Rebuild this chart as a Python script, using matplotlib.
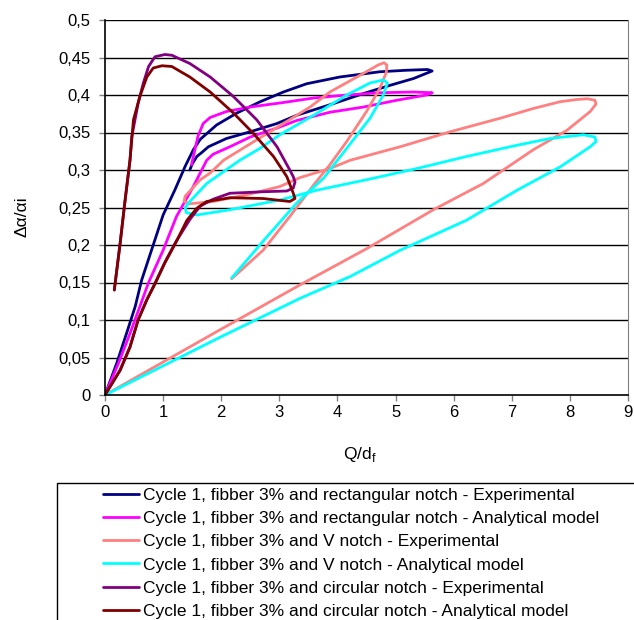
import matplotlib
matplotlib.use('Agg')
import matplotlib.pyplot as plt
from matplotlib.patches import Rectangle
from matplotlib.ticker import FixedLocator, FuncFormatter

plt.rcParams['font.family'] = ['Liberation Sans', 'DejaVu Sans']
plt.rcParams['font.size'] = 12

# Cycle 1, fibber 3% - rectangular notch, experimental
rect_exp_x = [0, 0.2, 0.37, 0.52, 0.63, 0.8, 1.0, 1.2, 1.38, 1.52, 1.64, 1.92, 2.27, 2.67, 3.07,
              3.47, 4.04, 4.73, 5.19, 5.55, 5.63, 5.31, 4.91, 4.45, 3.87, 3.30, 2.96, 2.5, 2.09,
              1.78, 1.66, 1.58, 1.5, 1.46]
rect_exp_y = [0, 0.042, 0.082, 0.118, 0.153, 0.193, 0.24, 0.273, 0.305, 0.327, 0.341, 0.36, 0.376,
              0.391, 0.404, 0.415, 0.424, 0.431, 0.433, 0.434, 0.432, 0.422, 0.413, 0.402, 0.387,
              0.373, 0.362, 0.351, 0.342, 0.331, 0.323, 0.318, 0.308, 0.3]

# rectangular notch, analytical model
rect_ana_x = [0, 0.23, 0.43, 0.6, 0.75, 1.0, 1.23, 1.52, 1.75, 1.86, 2.15, 2.5, 2.96, 3.3, 3.87,
              4.45, 5.02, 5.53, 5.63, 5.31, 4.73, 4.16, 3.59, 3.07, 2.5, 2.09, 1.81, 1.69, 1.6,
              1.52, 1.49]
rect_ana_y = [0, 0.042, 0.082, 0.118, 0.15, 0.193, 0.238, 0.278, 0.313, 0.321, 0.331, 0.344, 0.356,
              0.366, 0.377, 0.384, 0.393, 0.4, 0.403, 0.404, 0.403, 0.4, 0.396, 0.39, 0.384, 0.378,
              0.37, 0.362, 0.345, 0.318, 0.307]

# V notch, experimental
v_exp_x = [0, 1.98, 3.36, 4.5, 5.65, 6.51, 7.37, 7.95, 8.35, 8.45, 8.43, 8.3, 8.12, 7.83, 7.37,
           6.8, 5.94, 5.08, 4.22, 3.87, 3.36, 3.01, 2.44, 1.86, 1.46, 1.36, 1.38, 1.46, 1.64,
           1.81, 2.04, 2.27, 2.67, 3.07, 3.53, 3.87, 4.45, 4.7, 4.8, 4.85, 4.84, 4.73, 4.5,
           4.16, 3.87, 3.59, 3.18, 2.72, 2.18]
v_exp_y = [0, 0.087, 0.147, 0.195, 0.247, 0.282, 0.327, 0.353, 0.378, 0.388, 0.393, 0.395, 0.394,
           0.391, 0.382, 0.369, 0.351, 0.331, 0.313, 0.302, 0.29, 0.278, 0.267, 0.258, 0.255,
           0.258, 0.265, 0.272, 0.287, 0.296, 0.313, 0.324, 0.343, 0.362, 0.384, 0.404, 0.429,
           0.44, 0.443, 0.44, 0.43, 0.409, 0.378, 0.338, 0.307, 0.28, 0.238, 0.193, 0.155]

# V notch, analytical model
v_ana_x = [0, 1.98, 3.36, 4.22, 5.08, 6.22, 7.09, 7.83, 8.35, 8.45, 8.43, 8.23, 7.66, 7.09, 6.22,
           5.37, 4.5, 3.64, 3.01, 2.15, 1.58, 1.4, 1.38, 1.46, 1.75, 2.32, 2.67, 3.01, 3.59,
           4.16, 4.56, 4.79, 4.86, 4.79, 4.56, 4.16, 3.76, 3.3, 2.72, 2.18]
v_ana_y = [0, 0.077, 0.129, 0.158, 0.193, 0.233, 0.273, 0.304, 0.331, 0.338, 0.344, 0.347, 0.342,
           0.333, 0.318, 0.302, 0.287, 0.273, 0.26, 0.247, 0.24, 0.243, 0.25, 0.258, 0.282,
           0.313, 0.329, 0.347, 0.373, 0.4, 0.416, 0.42, 0.416, 0.4, 0.369, 0.329, 0.289,
           0.256, 0.205, 0.156]

# circular notch, experimental
circ_exp_x = [0.16, 0.26, 0.34, 0.43, 0.46, 0.57, 0.66, 0.75, 0.86, 1.03, 1.15, 1.46, 1.81, 2.21,
              2.61, 2.96, 3.18, 3.24, 3.27, 3.24, 3.13, 2.72, 2.15, 1.86, 1.64, 1.46, 1.21, 1.03,
              0.86, 0.72, 0.57, 0.43, 0.26, 0]
circ_exp_y = [0.14, 0.202, 0.256, 0.313, 0.344, 0.389, 0.416, 0.438, 0.451, 0.454, 0.453, 0.442,
              0.424, 0.398, 0.367, 0.331, 0.3, 0.291, 0.284, 0.276, 0.272, 0.271, 0.269, 0.261,
              0.252, 0.234, 0.203, 0.177, 0.149, 0.127, 0.1, 0.064, 0.033, 0]

# circular notch, analytical model
circ_ana_x = [0.16, 0.26, 0.34, 0.43, 0.49, 0.6, 0.72, 0.83, 0.98, 1.15, 1.46, 1.81, 2.21, 2.55,
              2.9, 3.13, 3.24, 3.27, 3.18, 2.72, 2.15, 1.75, 1.58, 1.41, 1.21, 1.03, 0.86, 0.72,
              0.57, 0.43, 0.26, 0]
circ_ana_y = [0.14, 0.202, 0.256, 0.313, 0.367, 0.398, 0.424, 0.436, 0.439, 0.438, 0.424, 0.404,
              0.376, 0.349, 0.318, 0.291, 0.269, 0.262, 0.258, 0.262, 0.263, 0.258, 0.249, 0.233,
              0.202, 0.176, 0.148, 0.127, 0.1, 0.064, 0.033, 0]

labels = [
    'Cycle 1, fibber 3% and rectangular notch - Experimental',
    'Cycle 1, fibber 3% and rectangular notch - Analytical model',
    'Cycle 1, fibber 3% and V notch - Experimental',
    'Cycle 1, fibber 3% and V notch - Analytical model',
    'Cycle 1, fibber 3% and circular notch - Experimental',
    'Cycle 1, fibber 3% and circular notch - Analytical model',
]
colors = ['#000080', '#FF00FF', '#FF8080', '#00FFFF', '#800080', '#800000']
xs = [rect_exp_x, rect_ana_x, v_exp_x, v_ana_x, circ_exp_x, circ_ana_x]
ys = [rect_exp_y, rect_ana_y, v_exp_y, v_ana_y, circ_exp_y, circ_ana_y]

x_ticks = [0, 1, 2, 3, 4, 5, 6, 7, 8, 9]
y_ticks = [0, 0.05, 0.1, 0.15, 0.2, 0.25, 0.3, 0.35, 0.4, 0.45, 0.5]

W, H = 634, 620
fig = plt.figure(figsize=(W / 100, H / 100), dpi=100)
ax = fig.add_axes([105 / W, 1 - 395 / H, 523 / W, 375 / H])

# gridlines first so the curves sit on top
for v in y_ticks[1:]:
    ax.axhline(v, color='black', lw=1.0, zorder=1)

handles = []
for x, y, c, lab in zip(xs, ys, colors, labels):
    ln, = ax.plot(x, y, color=c, lw=2.0, label=lab, zorder=2,
                  solid_joinstyle='round', solid_capstyle='round')
    handles.append(ln)

ax.set_xlim(0, 9)
ax.set_ylim(0, 0.5)
ax.xaxis.set_major_locator(FixedLocator(x_ticks))
ax.yaxis.set_major_locator(FixedLocator(y_ticks))
ax.yaxis.set_major_formatter(FuncFormatter(lambda v, p: f'{v:g}'.replace('.', ',')))
ax.tick_params(direction='out', length=4.5, width=1, color='#808080', labelsize=12)
ax.tick_params(axis='y', pad=6)
ax.tick_params(axis='x', pad=3)

for s in ['left', 'bottom']:
    ax.spines[s].set_color('black')
    ax.spines[s].set_linewidth(1.2)
ax.spines['top'].set_visible(False)
ax.spines['right'].set_color('#808080')

fig.text(22 / W, 1 - 217 / H, 'Δα/αi', rotation=90, ha='center', va='center', fontsize=12.5)
fig.text(360 / W, 1 - 455 / H, r'Q/d$_\mathregular{f}$', ha='center', va='center', fontsize=12.5)

# legend box runs off the bottom/right edge of the picture
fig.patches.append(Rectangle((57 / W, -0.05), 1.0, 0.05 + (620 - 483) / H,
                             transform=fig.transFigure, fill=False, ec='black', lw=1.0))
fig.legend(handles=handles, labels=labels, loc='upper left', bbox_to_anchor=(103 / W, 1 - 488 / H),
           frameon=False, handlelength=2.1, handletextpad=0.18, labelspacing=0.46,
           borderpad=0, borderaxespad=0, fontsize=12.5)

fig.savefig('out.png', dpi=100)
